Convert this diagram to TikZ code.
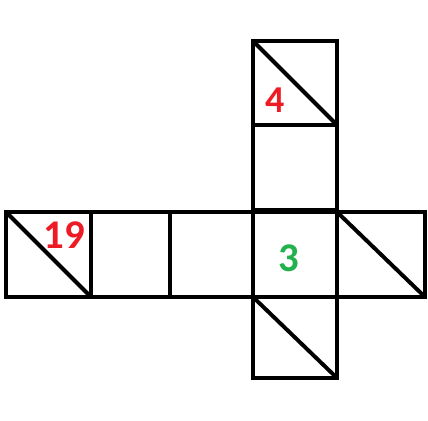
\documentclass[tikz,border=0pt]{standalone}
\usepackage{fontspec}
\setmainfont{Carlito}
\definecolor{paintred}{RGB}{237,28,36}
\definecolor{paintgreen}{RGB}{34,177,76}
\tikzset{
  face/.style={draw=black, line width=2.8pt},
  cut/.style={draw=black, line width=2.8pt, line cap=round},
  num/.style={font=\bfseries\fontsize{29}{29}\selectfont, inner sep=0pt}
}
\begin{document}
\begin{tikzpicture}[x=0.025cm, y=-0.025cm]
  \useasboundingbox (0,0) rectangle (428,421);

  % -- upper column --
  \draw[face] (253,41) rectangle (337,125);
  \draw[face] (253,125) rectangle (337,212);

  % -- middle row --
  \draw[face] (6,212) rectangle (91,297);
  \draw[face] (91,212) rectangle (170,297);
  \draw[face] (170,212) rectangle (253,297);
  \draw[face] (253,212) rectangle (337,297);
  \draw[face] (337,212) rectangle (425,297);

  % -- lower square --
  \draw[face] (253,297) rectangle (337,378);

  % heavier joint under the column
  \draw[black, line width=4.6pt] (253,211) -- (337,211);

  % diagonals
  \draw[cut] (253,41) -- (337,125);
  \draw[cut] (6,212) -- (91,297);
  \draw[cut] (337,212) -- (425,297);
  \draw[cut] (253,297) -- (337,378);

  % numbers
  \node[num, paintred, font=\bfseries\fontsize{27}{27}\selectfont] (four) at (275,100) {4};
  \node[num, paintred] (nineteen) at (64,235) {19};
  \node[num, paintgreen] (three) at (289,258) {3};

\end{tikzpicture}
\end{document}
